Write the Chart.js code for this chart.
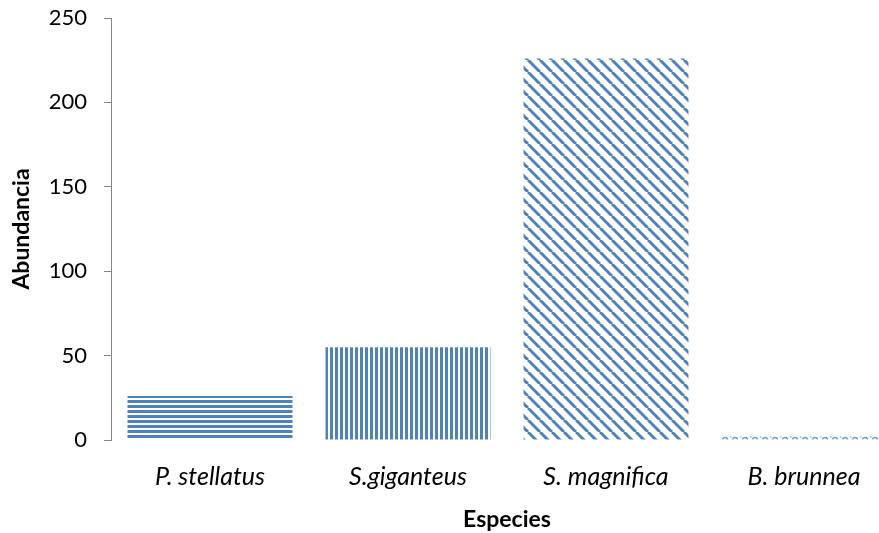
<!DOCTYPE html>
<html>
<head>
<meta charset="utf-8">
<script src="https://cdn.jsdelivr.net/npm/chart.js@4.4.1/dist/chart.umd.min.js"></script>
<style>
  html, body { margin: 0; padding: 0; background: #fff; overflow: hidden; }
  #wrap { width: 905px; height: 533px; }
</style>
</head>
<body>
<div id="wrap"><canvas id="chart"></canvas></div>
<script>
const species = ['P. stellatus', 'S.giganteus', 'S. magnifica', 'B. brunnea'];
const abundance = [26, 55, 226, 2];
const yTicks = [0, 50, 100, 150, 200, 250];

const blue = '#4F81BD';

// small tiles used as bar fills
function makePattern(w, h, draw) {
    const c = document.createElement('canvas');
    c.width = w; c.height = h;
    const g = c.getContext('2d');
    g.fillStyle = '#fff';
    g.fillRect(0, 0, w, h);
    g.strokeStyle = blue;
    g.fillStyle = blue;
    draw(g);
    return g.createPattern(c, 'repeat');
}

const ctx = document.getElementById('chart').getContext('2d');

const fills = [
    makePattern(8, 5, g => { g.fillRect(0, 0, 8, 3); }),
    makePattern(5, 8, g => { g.fillRect(0, 0, 3, 8); }),
    makePattern(12, 12, g => {
        g.lineWidth = 3;
        [-12, 0, 12].forEach(o => {
            g.beginPath();
            g.moveTo(o, 0);
            g.lineTo(o + 12, 12);
            g.stroke();
        });
    }),
    makePattern(10, 5, g => {
        g.fillStyle = '#fff';
        g.fillRect(0, 0, 10, 5);
        g.lineWidth = 1.3;
        g.strokeStyle = '#6f97c9';
        g.beginPath();
        g.arc(5, 5, 2.5, Math.PI, 0);
        g.stroke();
        g.fillStyle = '#6f97c9';
        g.fillRect(0, 1, 1.5, 1.5);
    })
];

new Chart(ctx, {
    type: 'bar',
    data: {
        labels: species,
        datasets: [{
            label: 'Abundancia',
            data: abundance,
            backgroundColor: fills,
            borderWidth: 0,
            categoryPercentage: 1.0,
            barPercentage: 0.833
        }]
    },
    options: {
        responsive: true,
        maintainAspectRatio: false,
        animation: false,
        layout: { padding: { top: 18, right: 2, left: 0, bottom: 0 } },
        plugins: {
            legend: { display: false },
            tooltip: { enabled: false }
        },
        scales: {
            x: {
                grid: { display: false },
                border: { display: false },
                ticks: {
                    color: '#000',
                    padding: 14,
                    font: { family: 'Lato', size: 25, style: 'italic' }
                },
                title: {
                    display: true,
                    text: 'Especies',
                    color: '#000',
                    padding: { top: 6, bottom: 0 },
                    font: { family: 'Lato', size: 23, weight: 'bold' }
                },
                afterFit: s => { s.height = 93; }
            },
            y: {
                min: 0,
                max: 250,
                afterBuildTicks: s => { s.ticks = yTicks.map(v => ({ value: v })); },
                grid: {
                    drawOnChartArea: false,
                    drawTicks: true,
                    tickLength: 7,
                    color: '#868686',
                    lineWidth: 1
                },
                border: { display: true, color: '#868686', width: 1 },
                ticks: {
                    color: '#000',
                    padding: 17,
                    font: { family: 'Lato', size: 22 }
                },
                title: {
                    display: true,
                    text: 'Abundancia',
                    color: '#000',
                    padding: { top: 8, bottom: 0 },
                    font: { family: 'Lato', size: 23, weight: 'bold' }
                },
                afterFit: s => {
                    s.width = 111;
                    s.paddingTop = 0;
                    s.paddingBottom = 0;
                }
            }
        }
    }
});
</script>
</body>
</html>
